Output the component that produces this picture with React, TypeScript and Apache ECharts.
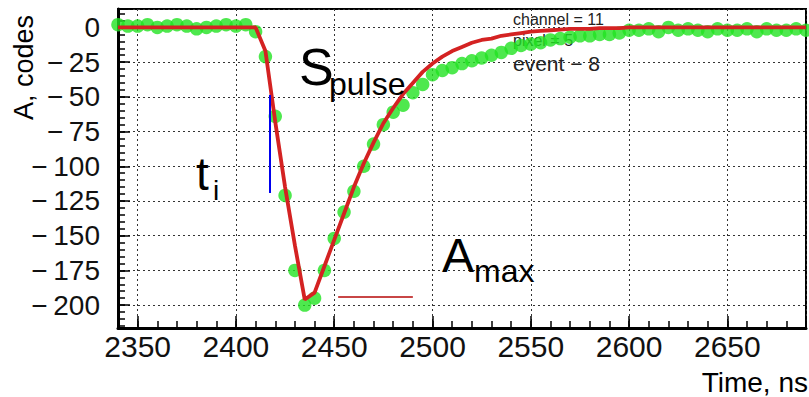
import React, { useEffect, useRef } from 'react';
import * as echarts from 'echarts';

// Sample times, ns
const times = [
  2340, 2345, 2350, 2355, 2360, 2365, 2370, 2375, 2380, 2385, 2390, 2395, 2400, 2405, 2410,
  2415, 2420, 2425, 2430, 2435, 2440, 2445, 2450, 2455, 2460, 2465, 2470, 2475, 2480, 2485, 2490,
  2495, 2500, 2505, 2510, 2515, 2520, 2525, 2530, 2535, 2540, 2545, 2550, 2555, 2560, 2565, 2570,
  2575, 2580, 2585, 2590, 2595, 2600, 2605, 2610, 2615, 2620, 2625, 2630, 2635, 2640, 2645, 2650,
  2655, 2660, 2665, 2670, 2675, 2680, 2685, 2690,
];

// Measured amplitude, codes (green points)
const measured = [
  2, 1, 1, 2, 0, 1, 2, 1, -1, 0, 1, 2, 1, 2, -3,
  -21, -64, -121, -175, -200, -195, -175, -152, -133, -118, -100, -84, -70, -61, -56, -47,
  -41, -34, -31, -29, -26, -24, -22, -20, -18, -15, -13, -12, -11, -9, -8, -7,
  -6, -6, -5, -5, -4, -2, -2, -1, -3, 0, -2, -1, -2, -3, -1, -2,
  -2, -1, -3, -1, -2, -2, -1, -2,
];

// Fitted pulse shape, codes (red line)
const fit = [
  0, 0, 0, 0, 0, 0, 0, 0, 0, 0, 0, 0, 0, 0, 0,
  -17, -68, -115, -157, -196, -191, -172, -153, -134, -115, -98, -83, -69, -58, -48, -40,
  -32, -26, -21, -17, -14, -11, -9, -8, -6, -5, -4, -3, -2.5, -2, -1.5, -1,
  -1, -1, -0.5, -0.5, -0.5, 0, 0, 0, 0, 0, 0, 0, 0, 0, 0, 0,
  0, 0, 0, 0, 0, 0, 0, 0,
];

// Axis ranges and tick steps
const xRange = [2340, 2690];
const yRange = [-216.5, 13.3];
const xMajor = 50;
const xMinor = 10;
const yMajor = 25;
const yMinor = 5;

// Annotation segments in data coordinates
const tiLine = [[2417, -48.6], [2417, -119.3]];
const amaxLine = [[2452, -194], [2490, -194]];

const FONT = '"Liberation Sans", Arial, Helvetica, sans-serif';

function txt(text: string, x: number, y: number, size: number, opts: any = {}) {
  const align = opts.align || 'left';
  const v = opts.verticalAlign || 'middle';
  return {
    type: 'text',
    x,
    y,
    z: opts.z ?? 100,
    rotation: opts.rotation || 0,
    silent: true,
    style: {
      text,
      fill: opts.color || '#000',
      font: `${size}px ${FONT}`,
      fontSize: size,
      fontFamily: FONT,
      align,
      textAlign: align,
      verticalAlign: v,
      textVerticalAlign: v,
    },
  };
}

export default function App() {
  const ref = useRef<HTMLDivElement>(null);

  useEffect(() => {
    document.body.style.margin = '0';
    const chart = echarts.init(ref.current!, null, { renderer: 'svg' });

    const majorLabel = (step: number) => (v: number) => {
      if (Math.abs(v / step - Math.round(v / step)) > 1e-6) return '';
      return v < 0 ? '\u2212\u2009' + Math.abs(v) : String(v);
    };

    const option: any = {
      animation: false,
      backgroundColor: '#fff',
      grid: {
        left: 118,
        top: 9,
        right: 2,
        bottom: 69,
        show: true,
        borderColor: '#000',
        borderWidth: 2,
        backgroundColor: 'transparent',
      },
      xAxis: [
        {
          type: 'value',
          position: 'bottom',
          min: xRange[0],
          max: xRange[1],
          minInterval: xMajor,
          maxInterval: xMajor,
          axisLine: { show: true, onZero: false, lineStyle: { color: '#000', width: 3 } },
          axisTick: { show: true, inside: true, length: 12, lineStyle: { color: '#000', width: 1.5 } },
          axisLabel: {
            margin: 3,
            fontSize: 30,
            fontFamily: FONT,
            color: '#111',
            formatter: majorLabel(xMajor),
          },
          splitLine: { show: true, lineStyle: { color: '#333', width: 1, type: [2, 3] } },
        },
        {
          type: 'value',
          position: 'bottom',
          min: xRange[0],
          max: xRange[1],
          interval: xMinor,
          axisLine: { show: false, onZero: false },
          axisTick: { show: true, inside: true, length: 7, lineStyle: { color: '#000', width: 1.5 } },
          axisLabel: { show: false },
          splitLine: { show: false },
        },
      ],
      yAxis: [
        {
          type: 'value',
          position: 'left',
          min: yRange[0],
          max: yRange[1],
          minInterval: yMajor,
          maxInterval: yMajor,
          axisLine: { show: true, onZero: false, lineStyle: { color: '#000', width: 3 } },
          axisTick: { show: true, inside: true, length: 12, lineStyle: { color: '#000', width: 1.5 } },
          axisLabel: {
            margin: 18,
            fontSize: 28,
            fontFamily: FONT,
            color: '#111',
            formatter: majorLabel(yMajor),
          },
          splitLine: { show: true, lineStyle: { color: '#333', width: 1, type: [2, 3] } },
        },
        {
          type: 'value',
          position: 'left',
          min: yRange[0],
          max: yRange[1],
          minInterval: yMinor,
          maxInterval: yMinor,
          axisLine: { show: false, onZero: false },
          axisTick: { show: true, inside: true, length: 7, lineStyle: { color: '#000', width: 1.5 } },
          axisLabel: { show: false },
          splitLine: { show: false },
        },
      ],
      series: [
        {
          type: 'scatter',
          name: 'data',
          xAxisIndex: 0,
          yAxisIndex: 0,
          data: times.map((t, i) => [t, measured[i]]),
          symbol: 'circle',
          symbolSize: 13.5,
          itemStyle: { color: '#22e222' },
          clip: true,
          z: 2,
        },
        {
          type: 'line',
          name: 'fit',
          xAxisIndex: 0,
          yAxisIndex: 0,
          data: times.map((t, i) => [t, fit[i]]),
          symbol: 'none',
          showSymbol: false,
          lineStyle: { color: '#d42222', width: 3.8 },
          clip: true,
          z: 3,
          markLine: {
            silent: true,
            symbol: ['none', 'none'],
            label: { show: false },
            data: [
              [
                { coord: tiLine[0], lineStyle: { color: '#0000ee', width: 2, type: 'solid' } },
                { coord: tiLine[1] },
              ],
              [
                { coord: amaxLine[0], lineStyle: { color: '#c84646', width: 2, type: 'solid' } },
                { coord: amaxLine[1] },
              ],
            ],
          },
        },
      ],
      graphic: [
        // partially hidden info text behind the data
        txt('channel = 11', 513, 19, 16, { z: 1, color: '#222' }),
        txt('pixel = 5', 513, 40, 16, { z: 1, color: '#222' }),
        txt('event \u2212 8', 513, 63, 21, { z: 1, color: '#222' }),
        // annotations
        txt('S', 299, 67, 52),
        txt('pulse', 329, 84, 32),
        txt('t', 196, 174, 46),
        txt('i', 213, 190, 28),
        txt('A', 442, 255.5, 48),
        txt('max', 474, 271, 32),
        txt('Time, ns', 808, 382, 28, { align: 'right' }),
        txt('A, codes', 23.6, 67.5, 27, { align: 'center', rotation: Math.PI / 2 }),
      ],
    };

    chart.setOption(option);
    return () => chart.dispose();
  }, []);

  return (
    <div
      ref={ref}
      style={{ position: 'absolute', left: 0, top: 0, width: 809, height: 397, background: '#fff' }}
    />
  );
}
